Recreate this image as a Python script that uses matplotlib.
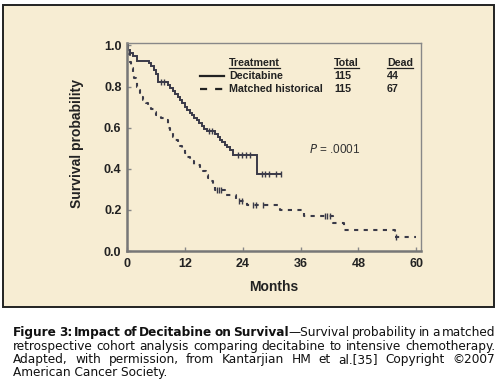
import matplotlib
matplotlib.use("Agg")
import matplotlib.pyplot as plt
from matplotlib.patches import Rectangle
from matplotlib.lines import Line2D

plt.rcParams['font.family'] = ['Liberation Sans', 'DejaVu Sans']

# ---------------- data ----------------
dec_t = [0, 0.3, 0.7, 1.3, 2.0, 4.5, 5.0, 5.5, 6.0, 6.4, 8.5, 9.0, 9.5, 10.0, 10.5,
         11.0, 11.5, 12.0, 12.5, 13.0, 13.5, 14.0, 14.5, 15.0, 15.5, 16.0, 16.5,
         18.3, 18.8, 19.3, 19.8, 20.3, 20.8, 21.3, 22.0, 27.0, 32.0]
dec_s = [1.0, 0.98, 0.965, 0.95, 0.925, 0.915, 0.90, 0.88, 0.86, 0.82, 0.81, 0.795,
         0.78, 0.765, 0.75, 0.735, 0.72, 0.70, 0.685, 0.67, 0.66, 0.645, 0.635,
         0.625, 0.61, 0.595, 0.582, 0.57, 0.555, 0.54, 0.53, 0.515, 0.505, 0.49,
         0.468, 0.375, 0.375]
dec_cens_t = [7.0, 7.6, 17.0, 17.6, 23.0, 23.8, 24.6, 25.5, 28.0, 28.6, 29.5, 31.0, 32.0]

his_t = [0, 0.3, 0.6, 0.9, 1.2, 1.5, 1.8, 2.1, 2.4, 2.7, 3.0, 3.4, 3.9, 4.4, 5.0,
         5.5, 6.1, 7.0, 8.2, 8.6, 9.0, 9.5, 10.0, 10.5, 11.0, 11.5, 12.0, 12.5,
         13.0, 14.0, 15.2, 15.7, 16.3, 16.8, 17.3, 17.8, 18.2, 20.3, 22.6, 24.8,
         31.8, 36.8, 42.8, 45.0, 55.6, 60.0]
his_s = [1.0, 0.96, 0.92, 0.89, 0.86, 0.84, 0.82, 0.80, 0.785, 0.77, 0.75, 0.735,
         0.72, 0.705, 0.69, 0.675, 0.66, 0.648, 0.635, 0.60, 0.575, 0.555, 0.54,
         0.525, 0.51, 0.495, 0.475, 0.455, 0.44, 0.42, 0.405, 0.39, 0.37, 0.355,
         0.34, 0.32, 0.298, 0.272, 0.242, 0.224, 0.198, 0.172, 0.138, 0.10,
         0.068, 0.068]
his_cens_t = [18.6, 19.1, 19.6, 23.2, 23.8, 26.2, 26.8, 28.2, 41.0, 41.6, 42.2, 55.8]

x_ticks = [0, 12, 24, 36, 48, 60]
y_ticks = [0.0, 0.2, 0.4, 0.6, 0.8, 1.0]

legend_rows = [("Decitabine", "115", "44", "-"),
               ("Matched historical", "115", "67", "--")]
p_text = ".0001"

caption_lines = [
    [[("Figure", "bold")], [("3:", "bold")], [("Impact", "bold")], [("of", "bold")],
     [("Decitabine", "bold")], [("on", "bold")],
     [("Survival", "bold"), ("\u2014Survival", "normal")],
     [("probability", "normal")], [("in", "normal")], [("a", "normal")],
     [("matched", "normal")]],
    [[(w, "normal")] for w in "retrospective cohort analysis comparing decitabine to intensive chemotherapy.".split()],
    [[(w, "normal")] for w in "Adapted, with permission, from Kantarjian HM et al.[35] Copyright \u00a92007".split()],
]
caption_last = "American Cancer Society."
caption_ref_line = "retrospective cohort analysis comparing decitabine to intensive chemotherapy."

# ---------------- figure ----------------
W, H = 500, 382
BG = "#F7EDD3"
LC = "#3a3a48"
CAP_FONT = ["DejaVu Sans"]
fig = plt.figure(figsize=(W / 100, H / 100), dpi=100)
fig.patch.set_facecolor("white")


def fx(px):
    return px / W


def fy(py):
    return 1 - py / H


fig.add_artist(Rectangle((fx(3), fy(307)), fx(494) - fx(3), fy(5) - fy(307),
                         transform=fig.transFigure, facecolor=BG,
                         edgecolor="#222222", lw=1.4, zorder=0))

ax = fig.add_axes([fx(127), fy(251), fx(421) - fx(127), fy(43) - fy(251)])
ax.set_facecolor(BG)

ax.step(dec_t, dec_s, where="post", color=LC, lw=1.4, solid_joinstyle="miter")
ax.step(his_t, his_s, where="post", color=LC, lw=1.5, linestyle=(0, (2.0, 2.6)))


def surv_at(tt, ts, ss):
    v = ss[0]
    for a, b in zip(ts, ss):
        if a <= tt:
            v = b
    return v

ax.plot(dec_cens_t, [surv_at(c, dec_t, dec_s) for c in dec_cens_t], ls="none",
        marker="|", ms=4, mew=1.0, color=LC)
ax.plot(his_cens_t, [surv_at(c, his_t, his_s) for c in his_cens_t], ls="none",
        marker="|", ms=4, mew=1.0, color=LC)

ax.set_xlim(0, 61)
ax.set_ylim(0, 1.012)
ax.set_xticks(x_ticks)
ax.set_yticks(y_ticks)
ax.set_xticklabels([str(v) for v in x_ticks])
ax.set_yticklabels([f"{v:.1f}" for v in y_ticks])
for lab in ax.get_xticklabels() + ax.get_yticklabels():
    lab.set_fontweight("bold")
    lab.set_color("#222222")
ax.tick_params(direction="in", length=3, width=1, colors="#888888",
               labelcolor="#222222", labelsize=9)
ax.tick_params(axis="x", pad=5)
ax.tick_params(axis="y", pad=4)
for side in ["left", "bottom"]:
    ax.spines[side].set_color("#777777")
    ax.spines[side].set_linewidth(1.8)
for side in ["top", "right"]:
    ax.spines[side].set_color("#888888")
    ax.spines[side].set_linewidth(1.0)

fig.text(fx(77), fy(143), "Survival probability", rotation=90, ha="center",
         va="center", fontsize=10, fontweight="bold", color="#222222")
fig.text(fx(274), fy(287), "Months", ha="center", va="center", fontsize=10,
         fontweight="bold", color="#222222")

# legend table
fs_leg = 7.7
hdrs = []
hdrs.append(fig.text(fx(229), fy(63.3), "Treatment", ha="left", va="center",
                     fontsize=fs_leg, fontweight="bold", color="#222222"))
hdrs.append(fig.text(fx(334), fy(63.3), "Total", ha="left", va="center",
                     fontsize=fs_leg, fontweight="bold", color="#222222"))
hdrs.append(fig.text(fx(387), fy(63.3), "Dead", ha="left", va="center",
                     fontsize=fs_leg, fontweight="bold", color="#222222"))
row_y = [76, 89.3]
for (name, tot, dead, ls), yy in zip(legend_rows, row_y):
    fig.text(fx(229), fy(yy), name, ha="left", va="center", fontsize=fs_leg,
             fontweight="bold", color="#222222")
    fig.text(fx(334), fy(yy), tot, ha="left", va="center", fontsize=fs_leg,
             fontweight="bold", color="#222222")
    fig.text(fx(387), fy(yy), dead, ha="left", va="center", fontsize=fs_leg,
             fontweight="bold", color="#222222")
    style = "-" if ls == "-" else (0, (3.2, 3.6))
    fig.add_artist(Line2D([fx(200), fx(223.5)], [fy(yy - 0.5), fy(yy - 0.5)],
                          transform=fig.transFigure, color="#222222", lw=1.6,
                          linestyle=style))

fig.text(fx(309), fy(149.3), r"$\mathit{P}$ = " + p_text, ha="left", va="center",
         fontsize=8.5, color="#333333")

# caption
cap_x0, cap_x1 = 13, 495
cap_base = [336.3, 349.7, 363.0, 376.3]

fig.canvas.draw()
renderer = fig.canvas.get_renderer()

# choose caption font size so that the full natural line fits the width
probe = fig.text(0, 0, caption_ref_line, fontsize=10, family=CAP_FONT)
pw = probe.get_window_extent(renderer).width
probe.remove()
fs_cap = 10 * (cap_x1 + 1 - cap_x0) / pw

for h in hdrs:
    bb = h.get_window_extent(renderer)
    yline = H - 67.8
    fig.add_artist(Line2D([bb.x0 / W, bb.x1 / W], [yline / H, yline / H],
                          transform=fig.transFigure, color="#222222", lw=0.9))

for words, yb in zip(caption_lines, cap_base[:3]):
    pieces = []
    widths = []
    for w in words:
        segs = []
        wsum = 0
        for txt, wt in w:
            t = fig.text(0, fy(yb), txt, ha="left", va="baseline",
                         fontsize=fs_cap, fontweight=wt, color="#111111",
                         family=CAP_FONT)
            bw = t.get_window_extent(renderer).width
            segs.append((t, bw))
            wsum += bw
        pieces.append(segs)
        widths.append(wsum)
    gap = (cap_x1 - cap_x0 - sum(widths)) / (len(words) - 1)
    x = cap_x0
    for segs, wsum in zip(pieces, widths):
        xx = x
        for t, bw in segs:
            t.set_x(fx(xx))
            xx += bw
        x += wsum + gap

fig.text(fx(cap_x0), fy(cap_base[3]), caption_last, ha="left", va="baseline",
         fontsize=fs_cap, color="#111111", family=CAP_FONT)

fig.savefig("out.png", dpi=100, facecolor="white")
